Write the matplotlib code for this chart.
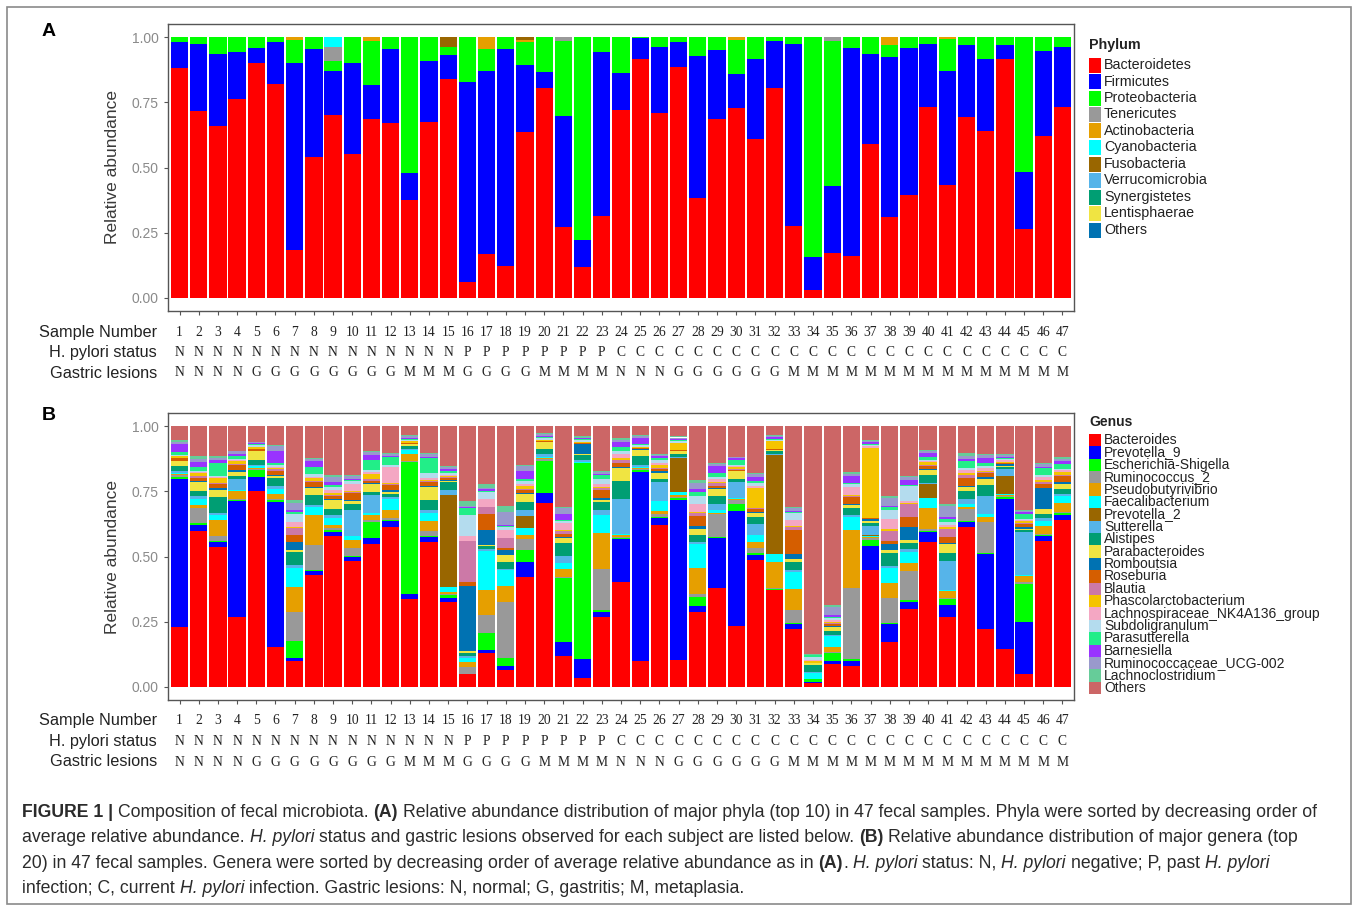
import numpy as np
import matplotlib
matplotlib.use('Agg')
import matplotlib.pyplot as plt
from matplotlib.patches import Rectangle
from matplotlib import transforms

W, H = 1358, 908

samples = list(range(1, 48))
hp_status = list('N' * 15 + 'P' * 8 + 'C' * 24)
lesions = list('NNNNGGGGGGGGMMMGGGGMMMMNNNGGGGGGMMMMMMMMMMMMMMM')

# ---- panel A: phylum (percent) ----
phyla = ['Bacteroidetes', 'Firmicutes', 'Proteobacteria', 'Tenericutes', 'Actinobacteria',
         'Cyanobacteria', 'Fusobacteria', 'Verrucomicrobia', 'Synergistetes', 'Lentisphaerae', 'Others']
phylum_colors = ['#FF0000', '#0000FF', '#00FF00', '#999999', '#E69F00', '#00FFFF',
                 '#996600', '#56B4E9', '#009E73', '#F0E442', '#0072B2']

bacteroidetes = [88, 71.8, 66, 76.2, 90.2, 82, 18.4, 54.1, 70.2, 55, 68.5, 66.9, 37.5, 67.4, 83.8, 6,
                 16.7, 12.4, 63.7, 80.6, 27.1, 11.7, 31.4, 72, 91.4, 71, 88.4, 38.4, 68.7, 72.7, 60.8,
                 80.3, 27.6, 3.1, 17.1, 16.2, 59, 30.9, 39.5, 73.3, 43.3, 69.5, 64, 91.4, 26.3, 62.2, 73.3]
firmicutes = [10, 25.4, 27.6, 18, 5.7, 16.1, 71.8, 41.2, 16.9, 35.2, 13.2, 28.6, 10.3, 23.5, 9.2, 76.6,
              70.4, 82.9, 25.4, 6.1, 42.8, 10.5, 62.7, 14.3, 8.1, 25.3, 9.7, 54.4, 26.3, 13.1, 30.9,
              18.2, 69.6, 12.7, 25.8, 79.6, 34.5, 61.6, 56.4, 24, 43.8, 27.3, 27.4, 5.5, 21.8, 32.6, 23]
proteobacteria = [2, 2.8, 6.4, 5.8, 4.1, 1.9, 8.6, 4.7, 3.8, 9.8, 16.9, 4.5, 52.2, 9.1, 3.3, 17.4,
                  8.2, 4.7, 9.1, 13.3, 28.6, 77.8, 5.9, 13.7, 0.5, 3.7, 1.9, 7.2, 5, 13.2, 8.3,
                  1.5, 2.8, 84.2, 55.6, 4.2, 6.5, 4.5, 4.1, 2.7, 12.1, 3.2, 8.6, 3.1, 51.9, 5.2, 3.7]
tenericutes = [0] * 8 + [5.1] + [0] * 11 + [1.5] + [0] * 13 + [1.5] + [0] * 12
actinobacteria = [0] * 6 + [1.2] + [0] * 3 + [1.4] + [0] * 5 + [4.7, 0, 0.8] + [0] * 10 + [1] + [0] * 7 + [3, 0, 0, 0.8] + [0] * 6
cyanobacteria = [0] * 8 + [4] + [0] * 38
fusobacteria = [0] * 14 + [3.7, 0, 0, 0, 1] + [0] * 28
verrucomicrobia = [0] * 47
synergistetes = [0] * 47
lentisphaerae = [0] * 47
phylum_others = [0] * 47

# ---- panel B: genus (percent) ----
genera = ['Bacteroides', 'Prevotella_9', 'Escherichia-Shigella', 'Ruminococcus_2', 'Pseudobutyrivibrio',
          'Faecalibacterium', 'Prevotella_2', 'Sutterella', 'Alistipes', 'Parabacteroides', 'Romboutsia',
          'Roseburia', 'Blautia', 'Phascolarctobacterium', 'Lachnospiraceae_NK4A136_group',
          'Subdoligranulum', 'Parasutterella', 'Barnesiella', 'Ruminococcaceae_UCG-002',
          'Lachnoclostridium', 'Others']
genus_colors = ['#FF0000', '#0000FF', '#00FF00', '#999999', '#E69F00', '#00FFFF', '#996600', '#56B4E9',
                '#009E73', '#F0E442', '#0072B2', '#D55E00', '#CC79A7', '#F5C400', '#F4A7C3', '#B4DCEE',
                '#22EE88', '#9933FF', '#9999CC', '#66CC99', '#CC6666']

bacteroides = [23, 60.5, 54.5, 27.3, 75.7, 15.5, 10, 43.8, 59.8, 48.3, 55.9, 62.3, 34.3, 56.6, 33.6, 4.9,
               13.3, 6.5, 42.9, 71.9, 11.9, 3.6, 27.2, 40.4, 10, 64.6, 10.6, 28.5, 38.7, 23.1, 49.3, 38.1,
               22.5, 1.4, 8.7, 7.8, 45.5, 17.4, 30.5, 57, 26.7, 61.4, 22.5, 14.8, 4.9, 56.3, 66.5]
prevotella_9 = [57, 2.5, 2, 45, 5.5, 56.4, 1.3, 1.7, 1.9, 1.7, 2.3, 2.3, 2.2, 2, 1.3, 0, 1.1, 1.9, 5.8,
                4.2, 5.5, 7.1, 2, 16.6, 74, 2.6, 63, 2.5, 19.5, 44.1, 1.9, 0, 2.1, 0.5, 1.3, 2.2, 9.5, 7,
                2.8, 3.8, 4.7, 2, 29.4, 59, 20.5, 1.9, 2]
escherichia = [1, 0.5, 0.5, 0.5, 2.5, 0.5, 6.6, 0.5, 0.5, 0.5, 6.4, 0.5, 51.7, 0.5, 1.3, 0, 6.8, 3, 4.5,
               12.5, 25, 76, 0.5, 0.5, 0.5, 0.5, 0.5, 3.5, 0.5, 2.5, 0.5, 0.5, 0.5, 1, 2.8, 0.5, 2.5, 0.5,
               0.5, 0.5, 2, 0.5, 0.5, 0.5, 15, 0.5, 0.5]
ruminococcus_2 = [0.5, 6, 2, 0.5, 0.5, 0.5, 11.5, 9.6, 1, 3, 0.5, 0.5, 0.5, 2, 0.5, 3, 7, 22, 4.5, 0.5,
                  0.5, 0, 16, 0.5, 0.5, 1, 0.5, 1, 9, 1.5, 2, 0.5, 5, 0, 0.5, 27, 0.5, 9.6, 11.5, 0.5,
                  0.5, 4.5, 12, 0.5, 0.5, 0.5, 0.5]
pseudobutyrivibrio = [0.5, 1, 6, 3, 0.5, 2, 9.6, 12, 1, 3, 2, 3.5, 2.5, 4, 0.5, 2, 9.6, 6.6, 1.3, 0.5,
                      3.2, 0, 14, 0.5, 0.5, 1.5, 1, 10, 0.5, 0.5, 2.5, 10, 8.3, 0, 2, 21.7, 0.5, 5.7, 3,
                      8.3, 2.5, 1, 2, 0.5, 2.5, 3, 3.8]
faecalibacterium = [0.5, 2.5, 2, 0.5, 0.5, 2, 7.7, 3, 3, 1.5, 1, 4, 1.5, 3, 2, 1.5, 15.3, 6, 3, 0.5, 2.5,
                    0.5, 7, 0.5, 0.5, 4, 1, 9, 1, 0.5, 2.5, 3.2, 6.4, 2.5, 4, 5, 0.5, 5.7, 4.5, 3.8, 0.5,
                    1, 1, 0.5, 0.5, 2, 2.5]
prevotella_2 = [0] * 14 + [36.4, 0, 0, 0, 4.5] + [0] * 7 + [13.4, 0, 0, 0, 0, 39, 0, 0, 0, 0, 0.5, 0, 0,
                                                          5.7, 0, 0, 0, 7, 0, 0, 0]
sutterella = [0.5, 1, 1, 4, 0.5, 1, 1, 1, 1, 10, 7, 1, 0.5, 1, 2, 0.5, 0.5, 0.5, 2.5, 1.3, 2.5, 0.5, 2,
              13.4, 0.5, 7.6, 0.5, 1, 2.5, 6, 4.5, 0.5, 1, 0.5, 0.5, 1, 3.5, 1, 1, 0.5, 11, 2, 7, 2.5,
              16.6, 1, 1]
alistipes = [2, 2, 6, 1.5, 2, 3, 5, 4, 2.5, 2.5, 1, 1, 1, 4, 3, 1.5, 1.3, 3, 3, 2, 5, 2, 3, 7, 3.8, 1, 1,
             2.5, 3, 1, 2.5, 1, 3, 2.5, 1.5, 2.5, 1, 5, 2.5, 3, 3.2, 3, 4.5, 1, 1, 1.5, 2]
parabacteroides = [2, 3.5, 3, 1.5, 3.5, 1, 1, 2.5, 3.5, 1, 3, 1, 1, 5, 0.5, 0.5, 0.5, 2.5, 3, 2.5, 2, 0.5,
                   1, 5, 2, 2.5, 1, 2.5, 2.5, 3, 1.5, 0.5, 1, 1, 1.5, 1, 1, 1, 1, 2, 3.2, 1.5, 2.5, 0.5,
                   0.5, 2, 2]
romboutsia = [0, 0.5, 0.5, 0.5, 0, 0.5, 3, 0.5, 0.5, 0.5, 0.5, 0.5, 0, 0.5, 0.5, 25.5, 5.7, 2, 0.5, 0,
              0.5, 3.8, 0.5, 0.5, 0.5, 0.5, 0, 1, 0.5, 0, 0.5, 0, 2, 0, 0.5, 0.5, 0.5, 2.5, 5, 0.5, 0.5,
              0.5, 0.5, 0.5, 0.5, 8.3, 0.5]
roseburia = [1, 1, 1.5, 2, 0.5, 1.5, 3, 2, 1, 2.5, 1, 2, 0.5, 1.5, 0.5, 1.3, 6.4, 1, 1, 0.5, 1.3, 0.5, 3,
             1.5, 0.5, 1, 0.5, 4, 1, 0.5, 1, 0.5, 9.5, 0, 0.5, 2.5, 0.5, 1, 4, 1, 2.5, 3, 1.5, 0.5, 1.3,
             1.5, 2.5]
blautia = [0, 1, 0.5, 0.5, 0, 0.5, 2.5, 0.5, 0.5, 0.5, 0.5, 0.5, 0, 0.5, 0.5, 16, 2.5, 4, 0.5, 0, 1, 0,
           1, 1, 0, 0.5, 0, 1, 1, 0.5, 0.5, 0, 1, 0, 0.5, 0.5, 0, 4, 5, 0.5, 3, 1, 0.5, 0, 0.5, 0.5, 0.5]
phascolarctobacterium = [1, 1, 2, 1, 1, 0.5, 0.5, 1, 1, 0.5, 2, 0.5, 0.5, 0.5, 0.5, 0, 0, 0, 1, 0.5,
                         0.5, 0.5, 0.5, 1, 0.5, 1, 3, 0.5, 0.5, 0.5, 7.7, 3, 0.5, 0.5, 0.5, 0.5, 27.5,
                         0.5, 0.5, 1, 0.5, 1, 0.5, 0.5, 0.5, 1, 1]
lachnospiraceae = [0, 0.5, 0.5, 0.5, 0, 0.5, 2, 0.5, 1, 2.5, 1, 6, 0, 0.5, 0.5, 2, 3, 3, 1, 0, 2.5, 0, 1,
                   1.5, 0, 1, 0, 3, 1, 0.5, 1, 0, 2.5, 0.5, 0.5, 3, 0.5, 4, 1, 0.5, 1, 1, 1, 0.5, 0.5,
                   1, 1]
subdoligranulum = [0.5, 0.5, 0.5, 0.5, 0.5, 0.5, 3, 1, 1, 1, 0.5, 1, 0.5, 2, 0.5, 8.3, 3, 1, 1, 0.5, 1,
                   0.5, 2, 1, 0.5, 1, 0.5, 3, 1, 0.5, 1, 0.5, 2.5, 1.3, 1, 1, 0.5, 3.5, 5.7, 0.5, 1, 1,
                   1, 0.5, 0.5, 1, 0.5]
parasutterella = [1, 1.5, 5, 1, 0.5, 1, 1, 3, 1, 0.5, 4, 3, 0.5, 6, 1, 2.5, 0.5, 0.5, 1, 0.5, 0.5, 0.5,
                  1.5, 1.5, 0.5, 1, 0.5, 1.5, 1.5, 2, 1, 0.5, 0.5, 0.5, 0.5, 0.5, 0.5, 1, 0.5, 1, 1,
                  2.5, 1, 0.5, 2, 2.5, 2]
barnesiella = [3, 2, 1, 1, 0.5, 4.5, 0.5, 2, 1, 0.5, 2, 0.5, 0.5, 0.5, 0.5, 0.5, 0.5, 0.5, 3, 0.5, 2, 0.5,
               0.5, 2, 2.5, 0.5, 0.5, 1, 2.5, 0.5, 1.5, 0.5, 0.5, 0, 0.5, 2.5, 0.5, 0.5, 2, 1.5, 1, 1,
               2, 0.5, 0.5, 0.5, 1]
ruminococcaceae = [1, 1, 1, 1, 0.5, 2, 3, 1, 2, 1, 1, 0.5, 0.5, 1, 1, 0.5, 0.5, 5, 2, 0.5, 2.5, 0, 0.5,
                   1, 0.5, 0.5, 0.5, 2.5, 1, 0.5, 1, 0.5, 1, 0, 3, 1, 0.5, 3, 1, 1, 4, 1, 1, 0.5, 0.5,
                   1, 1]
lachnoclostridium = [0.5, 1, 0.5, 0, 0, 0.5, 1, 0.5, 1, 0.5, 0.5, 0.5, 0.5, 0.5, 0.5, 2, 1.5, 2.5, 0.5,
                     0.5, 0.5, 0.5, 0.5, 0.5, 0.5, 0.5, 0.5, 1, 0.5, 0, 0.5, 0.5, 0.5, 0.5, 1, 0.5, 0.5,
                     1, 0.5, 0.5, 1, 1, 0.5, 0.5, 0.5, 0.5, 0.5]
genus_others = [5.5, 11.8, 11.8, 9.8, 6, 7.3, 29, 12.4, 19.4, 18.8, 9.8, 10.5, 3.5, 10.5, 15.6, 29, 22.6,
                31.5, 15, 2.8, 31.5, 4, 17.5, 4.7, 3.5, 11.1, 4, 20.7, 14.3, 11.8, 18.1, 3.5, 31.5, 88,
                68, 17.5, 5.4, 27, 19.4, 9.2, 29.6, 10.5, 11, 11, 32.8, 14.3, 12.4]

phylum_data = [bacteroidetes, firmicutes, proteobacteria, tenericutes, actinobacteria, cyanobacteria,
               fusobacteria, verrucomicrobia, synergistetes, lentisphaerae, phylum_others]
genus_data = [bacteroides, prevotella_9, escherichia, ruminococcus_2, pseudobutyrivibrio, faecalibacterium,
              prevotella_2, sutterella, alistipes, parabacteroides, romboutsia, roseburia, blautia,
              phascolarctobacterium, lachnospiraceae, subdoligranulum, parasutterella, barnesiella,
              ruminococcaceae, lachnoclostridium, genus_others]

fig = plt.figure(figsize=(W / 100, H / 100), dpi=100)
plt.rcParams['font.family'] = ['Liberation Sans', 'DejaVu Sans']


def fx(x):
    return x / W


def fy(y):
    return 1 - y / H


def stacked(ax, data, colors):
    mat = np.array(data, dtype=float)
    mat = mat / mat.sum(axis=0)          # relative abundance per sample
    bottom = np.zeros(mat.shape[1])
    for row, c in zip(mat, colors):
        ax.bar(samples, row, bottom=bottom, width=0.9, color=c, linewidth=0)
        bottom += row
    ax.set_xlim(0.4, 47.6)
    ax.set_ylim(-0.05, 1.05)
    ax.set_xticks(samples)
    ax.set_xticklabels([])
    ax.set_yticks([0, 0.25, 0.5, 0.75, 1.0])
    ax.set_yticklabels(['0.00', '0.25', '0.50', '0.75', '1.00'])
    ax.tick_params(axis='y', colors='#555555', labelcolor='#8a8a8a', labelsize=10, length=3, width=0.8)
    ax.tick_params(axis='x', colors='#555555', length=3, width=0.8)
    for s in ax.spines.values():
        s.set_color('#555555')
        s.set_linewidth(1)
    ax.set_ylabel('Relative abundance', fontsize=12.5, color='#3a3a3a')
    ax.yaxis.set_label_coords((120 - 168) / 906, 0.5)


def sample_rows(ax, y0):
    tr = transforms.blended_transform_factory(ax.transData, fig.transFigure)
    rows = [('Sample Number', samples), ('H. pylori status', hp_status), ('Gastric lesions', lesions)]
    for k, (lab, vals) in enumerate(rows):
        y = y0 + k * 20.5
        fig.text(fx(157), fy(y), lab, ha='right', va='center', fontsize=11.7, color='#222222')
        for s, v in zip(samples, vals):
            ax.text(s, fy(y), str(v), transform=tr, ha='center', va='center', fontsize=9.8,
                    family='Liberation Serif', color='#222222')


def legend(title, labels, colors, y_title, y0, step, key_h, size):
    fig.text(fx(1089), fy(y_title), title, fontsize=size, fontweight='bold', va='center', color='#222222')
    for i, (lab, c) in enumerate(zip(labels, colors)):
        yc = y0 + i * step
        fig.add_artist(Rectangle((fx(1089), fy(yc + key_h / 2)), 12 / W, key_h / H,
                                 transform=fig.transFigure, color=c, lw=0))
        fig.text(fx(1104), fy(yc), lab, fontsize=size, va='center', color='#222222')


axA = fig.add_axes([fx(168), fy(311), 906 / W, 287 / H])
stacked(axA, phylum_data, phylum_colors)
axB = fig.add_axes([fx(168), fy(700), 906 / W, 287 / H])
stacked(axB, genus_data, genus_colors)

sample_rows(axA, 332)
sample_rows(axB, 721)

fig.text(fx(42), fy(32), 'A', fontsize=14, fontweight='bold', va='center')
fig.text(fx(42), fy(416), 'B', fontsize=14, fontweight='bold', va='center')

legend('Phylum', phyla, phylum_colors, 45, 65, 16.5, 15, 10.3)
legend('Genus', genera, genus_colors, 422, 440, 12.4, 12.4, 10)

# figure frame
fig.add_artist(Rectangle((fx(7), fy(904)), (1351 - 7) / W, (904 - 7) / H, transform=fig.transFigure,
                         fill=False, edgecolor='#8a8a8a', lw=1.2))

# caption with mixed styles
caption = [
    [('FIGURE 1 |', 'b'), (' Composition of fecal microbiota. ', 'n'), ('(A)', 'b'),
     (' Relative abundance distribution of major phyla (top 10) in 47 fecal samples. Phyla were sorted by decreasing order of', 'n')],
    [('average relative abundance. ', 'n'), ('H. pylori', 'i'),
     (' status and gastric lesions observed for each subject are listed below. ', 'n'), ('(B)', 'b'),
     (' Relative abundance distribution of major genera (top', 'n')],
    [('20) in 47 fecal samples. Genera were sorted by decreasing order of average relative abundance as in ', 'n'),
     ('(A)', 'b'), ('. ', 'n'), ('H. pylori', 'i'), (' status: N, ', 'n'), ('H. pylori', 'i'),
     (' negative; P, past ', 'n'), ('H. pylori', 'i')],
    [('infection; C, current ', 'n'), ('H. pylori', 'i'),
     (' infection. Gastric lesions: N, normal; G, gastritis; M, metaplasia.', 'n')],
]
renderer = fig.canvas.get_renderer()


def seg_kw(style, size):
    kw = dict(fontsize=size, color='#2b2b2b', va='baseline', ha='left')
    if style == 'b':
        kw['fontweight'] = 'bold'
    if style == 'i':
        kw['fontstyle'] = 'italic'
    return kw


def text_w(s, style, size):
    t = fig.text(0, 0, s, **seg_kw(style, size))
    w = t.get_window_extent(renderer=renderer).width
    t.remove()
    return w


def space_w(size):
    return text_w('a a', 'n', size) - text_w('aa', 'n', size)


def seg_w(s, style, size):
    core = s.strip()
    n_sp = (len(s) - len(s.lstrip(' '))) + (len(s) - len(s.rstrip(' ')))
    return (text_w(core, style, size) if core else 0) + n_sp * space_w(size)


base = 12
line1_w = sum(seg_w(s, st, base) for s, st in caption[0])
cap_size = base * (1318 - 22) / line1_w
sp = space_w(cap_size)

for li, parts in enumerate(caption):
    x = 22
    yb = 817 + li * 25.3
    for s, st in parts:
        core = s.strip()
        x += sp * (len(s) - len(s.lstrip(' ')))
        if core:
            fig.text(fx(x), fy(yb), core, **seg_kw(st, cap_size))
            x += text_w(core, st, cap_size)
        x += sp * (len(s) - len(s.rstrip(' ')))

fig.savefig('out.png', dpi=100)
